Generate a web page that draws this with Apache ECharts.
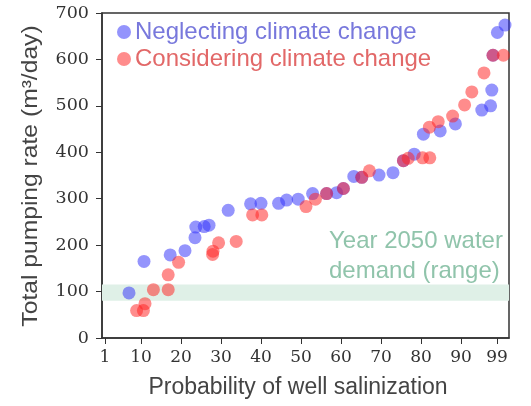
<!DOCTYPE html>
<html>
<head>
<meta charset="utf-8">
<script src="https://cdn.jsdelivr.net/npm/echarts@6/dist/echarts.min.js"></script>
<style>html,body{margin:0;padding:0;background:#fff;}#c{width:531px;height:406px;}</style>
</head>
<body>
<div id="c"></div>
<script>
// Data: [probability, pumping rate]
const neglecting = [[7,97],[10.75,165],[17.3,179],[21,188],[23.5,216],[23.7,239],[25.8,240],[27,243],[31.8,275],[37.4,289],[40,290],[44.4,290],[46.4,297],[49.3,299],[52.9,311],[56.4,311],[58.9,313],[60.6,322],[63.2,348],[65.2,346],[69.5,351],[73,356],[75.6,382],[78.3,396],[80.6,439],[84.8,446],[88.6,461],[95.2,491],[97.4,500],[97.7,534],[98,609],[99.1,658],[101,674]];
const considering = [[8.9,59],[10.6,59],[11,74],[13.1,104],[16.8,104],[16.8,136],[19.4,163],[27.9,180],[28,187],[29.4,205],[33.8,208],[37.9,265],[40.2,265],[51.25,283],[53.6,299],[56.4,311],[60.6,322],[65.2,346],[67.1,360],[75.6,382],[76.8,387],[80.4,388],[82.2,388],[82.1,454],[84.3,466],[87.9,478],[90.9,502],[92.7,530],[95.75,571],[98,609],[100.6,609]];
const xTicks = [1,10,20,30,40,50,60,70,80,90,99];
const demandRange = [80,115];
const seriesNames = ['Neglecting climate change','Considering climate change'];
const xTitle = 'Probability of well salinization';
const yTitle = 'Total pumping rate (m³/day)';
const noteText = 'Year 2050 water\ndemand (range)';

const chart = echarts.init(document.getElementById('c'), null, {renderer:'canvas'});
chart.setOption({
  animation:false,
  backgroundColor:'#fff',
  grid:{left:102, top:13, width:407, height:325, show:true, borderColor:'#333', borderWidth:1.5, backgroundColor:'transparent'},
  legend:{
    orient:'vertical', left:112, top:15, itemGap:3, itemWidth:14, itemHeight:14,
    icon:'circle',
    textStyle:{fontFamily:'Liberation Sans', fontSize:24, padding:[0,0,0,-1]},
    data:[
      {name:seriesNames[0], textStyle:{color:'#7878dc'}},
      {name:seriesNames[1], textStyle:{color:'#e26868'}}
    ]
  },
  xAxis:{
    type:'value', min:0.25, max:102,
    axisLine:{show:true, lineStyle:{color:'#333', width:1.5}},
    axisTick:{show:true, length:6, customValues:xTicks, lineStyle:{color:'#333'}},
    axisLabel:{customValues:xTicks, fontFamily:'DejaVu Serif', fontSize:17, color:'#333', margin:11},
    splitLine:{show:false}
  },
  yAxis:{
    type:'value', min:0, max:700, interval:100,
    axisLine:{show:true, lineStyle:{color:'#333', width:1.5}},
    axisTick:{show:true, length:6, lineStyle:{color:'#333'}},
    axisLabel:{fontFamily:'DejaVu Serif', fontSize:17.5, color:'#333', margin:13},
    splitLine:{show:false}
  },
  graphic:[
    {
      type:'text', left:329, top:226, z:5,
      style:{text:noteText, fontFamily:'Liberation Sans', fontSize:24, lineHeight:30, fill:'#90c4ab'}
    },
    {
      type:'text', x:298, y:388, z:5,
      style:{text:xTitle, fontFamily:'Liberation Sans', fontSize:23, fill:'#444', align:'center', verticalAlign:'middle'}
    },
    {
      type:'text', x:31, y:176, rotation:Math.PI/2, scaleX:1.12, z:5,
      style:{text:yTitle, fontFamily:'Liberation Sans', fontSize:22, fill:'#444', align:'center', verticalAlign:'middle'}
    }
  ],
  series:[
    {
      type:'line', data:[], z:1, silent:true,
      markArea:{silent:true, itemStyle:{color:'#dff0e7'}, data:[[{yAxis:demandRange[0]},{yAxis:demandRange[1]}]]}
    },
    {
      name:seriesNames[0], type:'scatter', data:neglecting, symbolSize:13, z:2,
      itemStyle:{color:'rgba(50,50,250,0.65)'}
    },
    {
      name:seriesNames[1], type:'scatter', data:considering, symbolSize:13, z:3,
      itemStyle:{color:'rgba(255,35,35,0.65)'}
    }
  ]
});
</script>
</body>
</html>
